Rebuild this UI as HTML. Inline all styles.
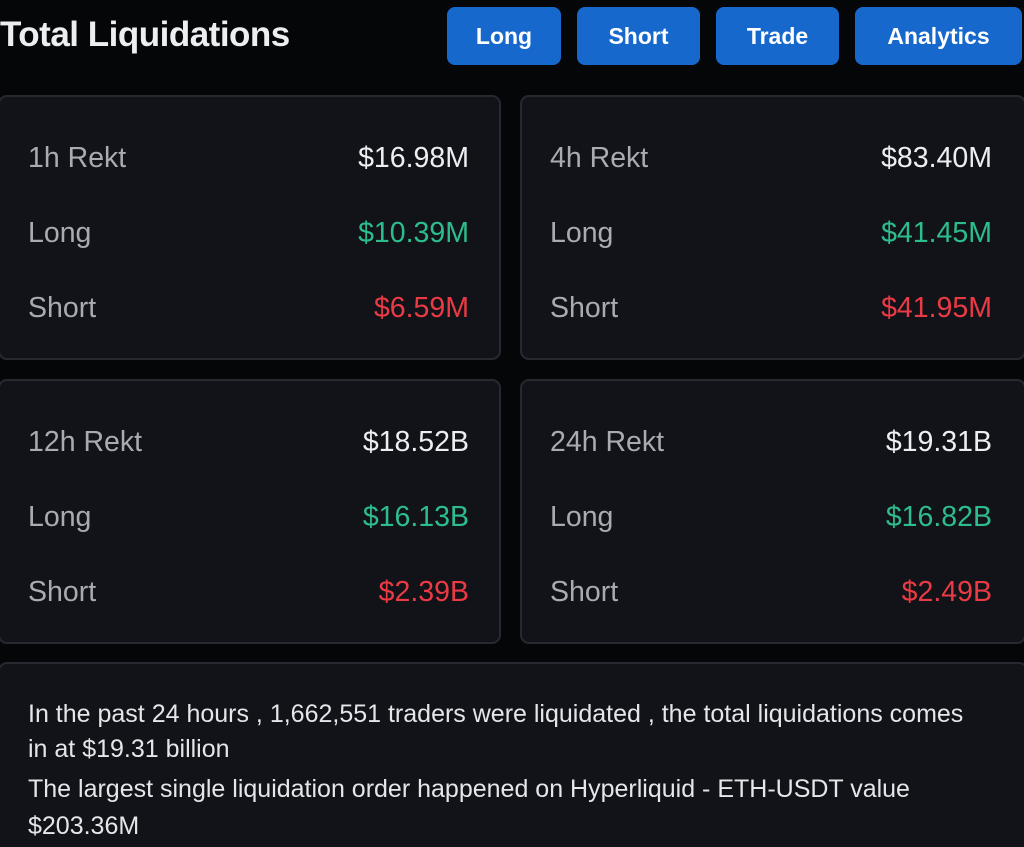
<!DOCTYPE html>
<html><head><meta charset="utf-8"><style>
html,body{margin:0;width:1024px;height:847px;overflow:hidden}
body{background:#050608;font-family:"Liberation Sans",sans-serif;position:relative}
.t{position:absolute;left:0;top:15px;font-size:35px;font-weight:bold;color:#eceef2;letter-spacing:-0.5px}
.b{position:absolute;top:7px;height:58px;background:#1768cc;border-radius:8px;color:#fff;font-weight:bold;font-size:23px;display:flex;align-items:center;justify-content:center}
.c{position:absolute;background:#111318;border:2px solid #262930;border-radius:9px;box-sizing:border-box}
.r{position:absolute;left:28px;right:30px;display:flex;justify-content:space-between;font-size:28.5px;color:#a8abb2;line-height:30px}
.w{color:#eceef2}.g{color:#2dbd8c}.d{color:#ea3a44}
.p{position:absolute;left:28px;font-size:25px;color:#e4e6ea;line-height:30px;white-space:nowrap}
</style></head><body>
<div class="t">Total Liquidations</div>
<div class="b" style="left:447px;width:114px">Long</div>
<div class="b" style="left:577px;width:123px">Short</div>
<div class="b" style="left:716px;width:123px">Trade</div>
<div class="b" style="left:855px;width:167px">Analytics</div>

<div class="c" style="left:-2px;top:95px;width:503px;height:265px">
<div class="r" style="top:46px"><span>1h Rekt</span><span class="w">$16.98M</span></div>
<div class="r" style="top:121px"><span>Long</span><span class="g">$10.39M</span></div>
<div class="r" style="top:196px"><span>Short</span><span class="d">$6.59M</span></div>
</div>
<div class="c" style="left:520px;top:95px;width:506px;height:265px">
<div class="r" style="top:46px;right:32px"><span>4h Rekt</span><span class="w">$83.40M</span></div>
<div class="r" style="top:121px;right:32px"><span>Long</span><span class="g">$41.45M</span></div>
<div class="r" style="top:196px;right:32px"><span>Short</span><span class="d">$41.95M</span></div>
</div>
<div class="c" style="left:-2px;top:379px;width:503px;height:265px">
<div class="r" style="top:46px"><span>12h Rekt</span><span class="w">$18.52B</span></div>
<div class="r" style="top:121px"><span>Long</span><span class="g">$16.13B</span></div>
<div class="r" style="top:196px"><span>Short</span><span class="d">$2.39B</span></div>
</div>
<div class="c" style="left:520px;top:379px;width:506px;height:265px">
<div class="r" style="top:46px;right:32px"><span>24h Rekt</span><span class="w">$19.31B</span></div>
<div class="r" style="top:121px;right:32px"><span>Long</span><span class="g">$16.82B</span></div>
<div class="r" style="top:196px;right:32px"><span>Short</span><span class="d">$2.49B</span></div>
</div>
<div class="c" style="left:-2px;top:662px;width:1030px;height:200px">
<div class="p" style="top:35px">In the past 24 hours , 1,662,551 traders were liquidated , the total liquidations comes</div>
<div class="p" style="top:70px">in at $19.31 billion</div>
<div class="p" style="top:110px">The largest single liquidation order happened on Hyperliquid - ETH-USDT value</div>
<div class="p" style="top:147px">$203.36M</div>
</div>
</body></html>
